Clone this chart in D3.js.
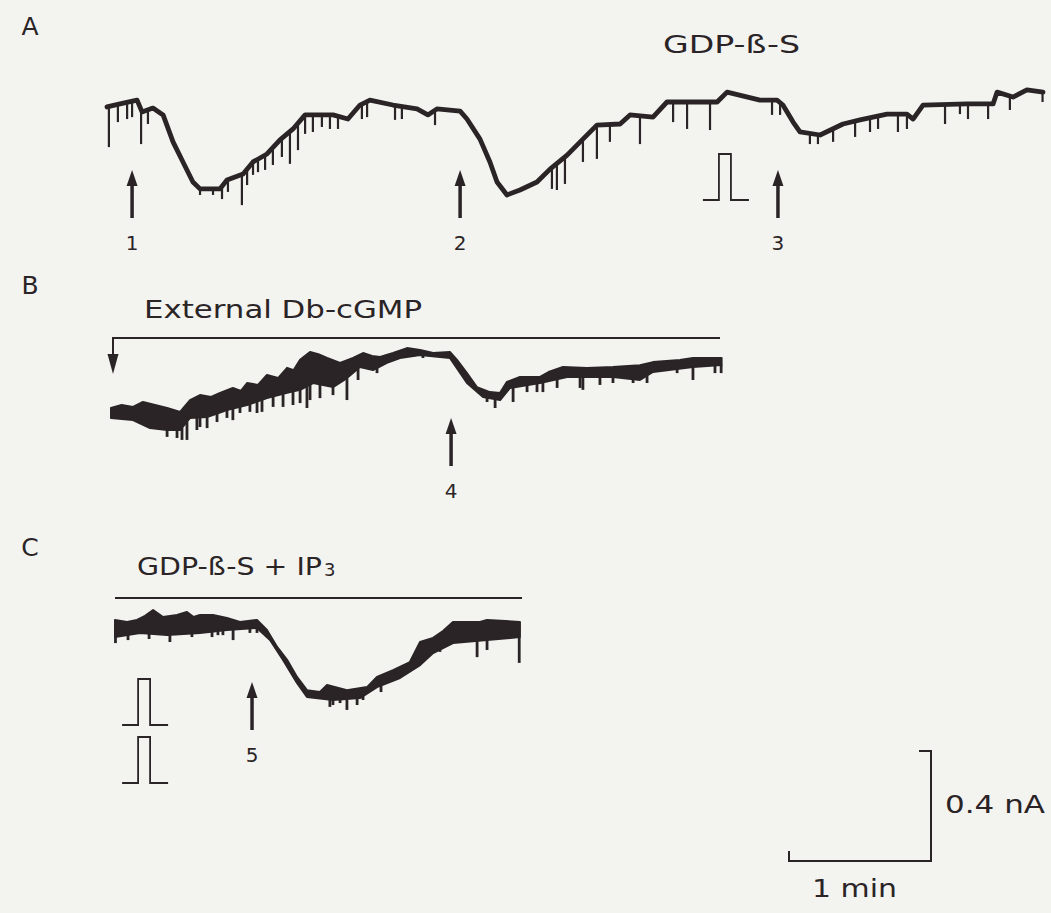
<!DOCTYPE html>
<html>
<head>
<meta charset="utf-8">
<title>GDP-ß-S, Db-cGMP, IP3 traces</title>
<script src="https://cdnjs.cloudflare.com/ajax/libs/d3/7.8.5/d3.min.js"></script>
<style>
body { margin: 0; background: #f3f3f0; }
svg { display: block; }
text { font-family: "DejaVu Sans", sans-serif; fill: #2a2426; }
.trace { fill: none; stroke: #2a2426; stroke-width: 4.8; stroke-linejoin: round; stroke-linecap: round; }
.band { fill: #2a2426; stroke: #2a2426; stroke-width: 2; stroke-linejoin: round; }
.spike { stroke: #2a2426; stroke-width: 2.2; }
.bar { fill: none; stroke: #2a2426; stroke-width: 2; }
.pulse { fill: none; stroke: #2a2426; stroke-width: 1.8; }
.head { fill: #2a2426; }
</style>
</head>
<body>
<svg width="1051" height="913"></svg>
<script>
// time in s from start of each trace, current in nA (downward = inward)
var traceA = [[0,-0.018],[5.5,-0.007],[12.7,0.007],[14.8,-0.036],[19.4,-0.022],[23.7,-0.047],
  [27.9,-0.145],[32.1,-0.218],[36.3,-0.291],[39.3,-0.316],[47.7,-0.316],[50.7,-0.284],[57.5,-0.262],
  [61.7,-0.218],[67.6,-0.189],[73.1,-0.138],[78.6,-0.098],[83.7,-0.047],[95.5,-0.047],[101.8,-0.062],
  [106.9,-0.011],[111.1,0.007],[120.8,-0.011],[131,-0.025],[135.6,-0.047],[139.4,-0.025],[149.2,-0.033],
  [152.1,-0.062],[157.6,-0.135],[161.8,-0.218],[164.8,-0.291],[169,-0.338],[174.5,-0.32],[181.7,-0.291],
  [187.2,-0.244],[194.4,-0.193],[201.1,-0.135],[207,-0.084],[216.8,-0.08],[221,-0.047],[230.7,-0.055],
  [236.6,0],[257.8,0],[262,0.036],[275.9,0.007],[283.1,0.007],[285.6,-0.011],[289.9,-0.073],
  [292.8,-0.109],[301.3,-0.12],[311,-0.08],[318.2,-0.065],[329.6,-0.044],[338,-0.044],[340.6,-0.062],
  [344.8,-0.011],[363.4,-0.007],[374.4,-0.007],[376.1,0.036],[382.8,0.018],[388.7,0.044],[395.5,0.036]];
var spikesA = [[0.8,-0.164],[4.6,-0.073],[8.5,-0.062],[10.6,-0.055],[14.4,-0.153],[17.3,-0.08],
  [39.3,-0.338],[44.8,-0.338],[48.6,-0.353],[51.1,-0.327],[57,-0.375],[59.2,-0.302],[61.7,-0.265],
  [63.8,-0.255],[66.8,-0.247],[70.1,-0.229],[73.9,-0.2],[77.3,-0.225],[80.7,-0.175],[83.7,-0.116],
  [87,-0.109],[90.8,-0.091],[94.2,-0.098],[97.6,-0.098],[107.7,-0.062],[109.9,-0.055],[121.7,-0.065],
  [124.6,-0.062],[138.6,-0.084],[188,-0.316],[190.1,-0.32],[193.5,-0.298],[201.1,-0.218],[207,-0.207],
  [212.5,-0.145],[225.2,-0.153],[239.2,-0.073],[245.1,-0.098],[254.8,-0.102],[281,-0.047],[284.4,-0.047],
  [297,-0.153],[300.4,-0.153],[306.8,-0.145],[316.1,-0.127],[322.4,-0.109],[325.8,-0.098],[334.2,-0.109],
  [338,-0.098],[354.1,-0.08],[360.4,-0.044],[363.8,-0.062],[372.3,-0.062],[381.5,-0.029],[395.3,0]];

var traceBTop = [[0,-0.211],[4.5,-0.200],[9.3,-0.207],[13.5,-0.189],[18.6,-0.200],[23.7,-0.211],
  [29.2,-0.225],[33.4,-0.182],[37.6,-0.164],[42.3,-0.171],[46.1,-0.156],[51.5,-0.138],[54.9,-0.149],
  [57.5,-0.12],[62.1,-0.127],[65.9,-0.091],[70.6,-0.102],[74.4,-0.065],[77.2,-0.073],[79.9,-0.036],
  [84.1,-0.007],[87.6,-0.015],[91.3,-0.029],[96.8,-0.047],[102.3,-0.029],[106.5,-0.011],[110.3,-0.022],
  [113.7,-0.025],[119.2,-0.011],[125.1,0.007],[130.6,0],[136.1,-0.011],[143.2,-0.007],[146.2,-0.036],
  [150.4,-0.084],[154.6,-0.135],[160.1,-0.153],[164.4,-0.156],[167.3,-0.116],[172.8,-0.098],[181.3,-0.098],
  [184.9,-0.080],[191,-0.062],[201.1,-0.065],[212.1,-0.062],[223.5,-0.055],[229,-0.044],[240.4,-0.036],
  [245.9,-0.029],[258,-0.029]];
var traceBBottom = [[0,-0.247],[9.3,-0.255],[16.5,-0.284],[23.7,-0.291],[29.2,-0.291],[33.4,-0.247],
  [40.6,-0.244],[49,-0.218],[57.5,-0.2],[65.9,-0.175],[74.4,-0.156],[79.9,-0.145],[85.4,-0.12],
  [93.8,-0.135],[99.7,-0.102],[105.2,-0.062],[110.7,-0.073],[116.6,-0.047],[122.1,-0.029],[130.6,-0.018],
  [143.2,-0.029],[150.4,-0.12],[157.2,-0.171],[164.4,-0.182],[168.6,-0.138],[181.3,-0.12],[192.7,-0.098],
  [212.1,-0.098],[223.5,-0.109],[229,-0.08],[245.9,-0.062],[258,-0.055]];
var spikesB = [[12.3,-0.262],[15.2,-0.28],[23.7,-0.316],[27.9,-0.32],[30,-0.327],[32.1,-0.327],
  [36.3,-0.291],[37.6,-0.28],[40.6,-0.284],[44.8,-0.262],[49,-0.247],[51.5,-0.255],[54.5,-0.229],
  [58.7,-0.225],[61.7,-0.229],[63.8,-0.225],[68.5,-0.207],[72.7,-0.207],[76.9,-0.2],[79.9,-0.193],
  [82.8,-0.211],[84.1,-0.182],[88.3,-0.175],[93.8,-0.164],[99.7,-0.182],[104.4,-0.109],[112.4,-0.084],
  [127.6,-0.025],[131.8,-0.029],[158.9,-0.189],[162.3,-0.211],[169.9,-0.189],[175.8,-0.153],[180,-0.153],
  [182.5,-0.153],[188.5,-0.138],[198.2,-0.138],[199.4,-0.145],[206.6,-0.127],[212.1,-0.12],[220.6,-0.12],
  [226.5,-0.12],[239.2,-0.084],[245.9,-0.109],[255.2,-0.084],[257.8,-0.084]];

var traceCTop = [[0,0],[5.1,-0.007],[9.3,0],[12.7,0.015],[16.1,0.036],[20.3,0.011],[26.2,0.018],
  [30.4,0.029],[33.2,0.011],[35.9,0.018],[41.4,0.018],[47.3,0.007],[52.8,-0.007],[60,0],[64.2,-0.036],
  [68.5,-0.098],[72.7,-0.145],[76.9,-0.207],[81.1,-0.255],[86.6,-0.262],[89.6,-0.236],[98,-0.255],
  [106.5,-0.244],[110.7,-0.207],[117.5,-0.182],[124.6,-0.153],[128.9,-0.08],[134.4,-0.065],[138.6,-0.040],
  [142.8,-0.007],[154.2,-0.007],[157.2,0],[171.1,-0.007]];
var traceCBottom = [[0,-0.062],[10.6,-0.047],[22,-0.055],[35.9,-0.047],[47.3,-0.036],[60,-0.029],
  [65.5,-0.073],[71,-0.145],[76.9,-0.229],[81.1,-0.28],[92.1,-0.291],[103.5,-0.284],[110.7,-0.244],
  [120.4,-0.211],[128.9,-0.164],[134.4,-0.12],[142.8,-0.084],[157.2,-0.073],[171.1,-0.062]];
var spikesC = [[0.2,-0.084],[5.5,-0.073],[14.4,-0.069],[23.2,-0.08],[32.5,-0.062],[41,-0.062],
  [43.5,-0.055],[45.6,-0.055],[49.9,-0.073],[57,-0.047],[60,-0.047],[90.8,-0.316],[92.1,-0.309],
  [95.1,-0.302],[98,-0.327],[102.3,-0.309],[104.8,-0.291],[112.4,-0.262],[137.3,-0.116],[153,-0.135],
  [157.2,-0.109],[170.8,-0.156]];

// arrows (time, label) and stimulus pulses (time)
var eventsA = [[10.6, "1"], [149.2, "2"], [283.5, "3"]];
var eventsB = [[143.7, "4"]];
var eventsC = [[57.9, "5"]];
var pulsesA = [251.8];
var pulsesC = [3.0, 3.0];

var panelLabels = ["A", "B", "C"];
var solutions = ["GDP-ß-S", "External Db-cGMP", "GDP-ß-S + IP"];
var scaleBar = {time: 60, current: 0.4, timeLabel: "1 min", currentLabel: "0.4 nA"};

var svg = d3.select("svg");
var pxPerSec = 142 / 60, pxPerNA = 110 / 0.4;

function xScale(x0, dur) {
  return d3.scaleLinear().domain([0, dur]).range([x0, x0 + dur * pxPerSec]);
}
function yScale(y0) {
  return d3.scaleLinear().domain([0, -0.4]).range([y0, y0 + 0.4 * pxPerNA]);
}
function valueAt(series, t) {
  var i = d3.bisector(function(d) { return d[0]; }).left(series, t);
  if (i <= 0) return series[0][1];
  if (i >= series.length) return series[series.length - 1][1];
  var a = series[i - 1], b = series[i];
  return a[1] + (b[1] - a[1]) * (t - a[0]) / (b[0] - a[0]);
}

var panels = [
  {x0: 107, y0: 102, top: traceA, bottom: null, spikes: spikesA, events: eventsA, pulses: pulsesA,
   arrowY: 170, pulseBase: [200]},
  {x0: 111, y0: 350, top: traceBTop, bottom: traceBBottom, spikes: spikesB, events: eventsB, pulses: [],
   arrowY: 418, pulseBase: []},
  {x0: 115, y0: 620, top: traceCTop, bottom: traceCBottom, spikes: spikesC, events: eventsC, pulses: pulsesC,
   arrowY: 682, pulseBase: [725, 783]}
];

panels.forEach(function(p) {
  var dur = p.top[p.top.length - 1][0];
  var x = xScale(p.x0, dur), y = yScale(p.y0);
  var g = svg.append("g");
  var line = d3.line().x(function(d) { return x(d[0]); }).y(function(d) { return y(d[1]); });

  if (p.bottom) {
    var pts = p.top.concat(p.bottom.slice().reverse());
    g.append("path").attr("class", "band").attr("d", line(pts) + "Z");
  } else {
    g.append("path").attr("class", "trace").attr("d", line(p.top));
  }

  var base = p.bottom || p.top;
  g.selectAll(".spike").data(p.spikes).enter().append("line")
    .attr("class", "spike")
    .style("stroke-width", p.bottom ? 2.8 : 2.2)
    .attr("x1", function(d) { return x(d[0]); })
    .attr("x2", function(d) { return x(d[0]); })
    .attr("y1", function(d) { return y(valueAt(base, d[0])); })
    .attr("y2", function(d) { return y(d[1]); });

  // arrows
  p.events.forEach(function(e) {
    var ax = x(e[0]);
    g.append("path").attr("class", "head")
      .attr("d", "M" + ax + "," + p.arrowY + "L" + (ax - 5.5) + "," + (p.arrowY + 16) +
        "L" + (ax + 5.5) + "," + (p.arrowY + 16) + "Z");
    g.append("line").attr("class", "spike").style("stroke-width", 3.5)
      .attr("x1", ax).attr("x2", ax).attr("y1", p.arrowY + 12).attr("y2", p.arrowY + 48);
    g.append("text").attr("x", ax).attr("y", p.arrowY + 80)
      .attr("text-anchor", "middle").style("font-size", "20px").text(e[1]);
  });

  // voltage pulse icons
  p.pulses.forEach(function(t, i) {
    var px = x(t), b = p.pulseBase[i];
    g.append("path").attr("class", "pulse")
      .attr("d", "M" + px + "," + b + "H" + (px + 16) + "V" + (b - 46) + "H" + (px + 28) +
        "V" + b + "H" + (px + 46));
  });
});

// panel letters and solution labels
var letterY = [35, 294, 556];
svg.selectAll(".plabel").data(panelLabels).enter().append("text")
  .attr("class", "plabel").attr("x", 30).attr("y", function(d, i) { return letterY[i]; })
  .attr("text-anchor", "middle").style("font-size", "25px").text(function(d) { return d; });

var solPos = [[663, 53, 137], [144, 318, 278], [137, 575, 185]];
svg.selectAll(".sol").data(solutions).enter().append("text")
  .attr("class", "sol")
  .attr("x", function(d, i) { return solPos[i][0]; })
  .attr("y", function(d, i) { return solPos[i][1]; })
  .attr("textLength", function(d, i) { return solPos[i][2]; })
  .attr("lengthAdjust", "spacingAndGlyphs")
  .style("font-size", "24px").text(function(d) { return d; });
svg.append("text").attr("x", 324).attr("y", 576).style("font-size", "18px").text("3");

// solution bars
svg.append("path").attr("class", "bar").attr("d", "M720,338H113V358");
svg.append("path").attr("class", "head").attr("d", "M113,374L107.5,354H118.5Z");
svg.append("path").attr("class", "bar").attr("d", "M115,598H522");

// scale bar
var sx = d3.scaleLinear().domain([0, scaleBar.time]).range([931 - scaleBar.time * pxPerSec, 931]);
var sy = d3.scaleLinear().domain([0, scaleBar.current]).range([861, 861 - scaleBar.current * pxPerNA]);
svg.append("path").attr("class", "bar")
  .attr("d", "M" + sx(0) + "," + (sy(0) - 10) + "V" + sy(0) + "H" + sx(scaleBar.time) +
    "V" + sy(scaleBar.current) + "H" + (sx(scaleBar.time) - 12));
svg.append("text").attr("x", 945).attr("y", 813).attr("textLength", 100).attr("lengthAdjust", "spacingAndGlyphs")
  .style("font-size", "24px").text(scaleBar.currentLabel);
svg.append("text").attr("x", 812).attr("y", 897).attr("textLength", 85).attr("lengthAdjust", "spacingAndGlyphs")
  .style("font-size", "24px").text(scaleBar.timeLabel);
</script>
</body>
</html>
